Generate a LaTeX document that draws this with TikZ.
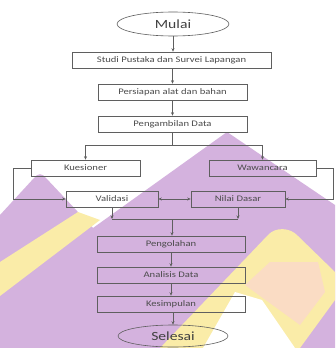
\documentclass[tikz,border=0pt]{standalone}
\usepackage{fontspec}
\setmainfont[FakeStretch=1.25]{Carlito}
\usetikzlibrary{shapes.geometric,arrows.meta}
\definecolor{wmpurple}{RGB}{212,178,222}
\definecolor{wmyellow}{RGB}{250,236,168}
\definecolor{wmorange}{RGB}{250,220,196}
\definecolor{lncol}{RGB}{95,95,95}
\begin{document}
\begin{tikzpicture}[x=1pt,y=-1pt,
  box/.style={draw=lncol, line width=0.6pt, minimum height=16pt, inner sep=1pt,
    font=\fontsize{8.5}{10}\selectfont, text=black!70},
  term/.style={ellipse, draw=lncol, line width=0.6pt, inner sep=1pt,
    font=\fontsize{12.5}{14}\selectfont, text=black!75},
  arr/.style={draw=lncol, line width=0.5pt, -{Stealth[length=3.5pt,width=3pt]}},
  ln/.style={draw=lncol, line width=0.5pt}]
\useasboundingbox (0,0) rectangle (335,348);
% watermark background
\fill[white] (0,0) rectangle (335,348);
\fill[wmpurple] (227,132) -- (335,205) -- (335,348) -- (0,348) -- (0,215) -- (34,178)
  .. controls (38,173) and (42,173) .. (46,178) -- (93,228) -- cycle;
\fill[wmyellow] (0,262) -- (78,212) -- (100,220) -- (0,296) -- cycle;
\fill[wmyellow] (160,348) -- (268,235) .. controls (275,227) and (290,227) .. (298,236)
  -- (335,272) -- (335,300) -- (300,348) -- cycle;
\fill[wmorange] (245,285) -- (270,262) -- (318,262) -- (325,292) -- (300,325) -- cycle;
\fill[white] (203,348) -- (235,292) -- (262,300) -- (295,348) -- cycle;
% nodes
\node[term, fill=white, minimum width=112pt, minimum height=24pt] (mulai) at (173,24) {Mulai};
\node[box, minimum width=199pt] (studi) at (171.5,60) {Studi Pustaka dan Survei Lapangan};
\node[box, minimum width=149pt] (persiapan) at (172.5,92) {Persiapan alat dan bahan};
\node[box, minimum width=149pt] (ambil) at (172.5,124) {Pengambilan Data};
\node[box, minimum width=109pt] (kues) at (85.5,168) {Kuesioner};
\node[box, minimum width=107pt] (waw) at (262.5,168) {Wawancara};
\node[box, minimum width=92pt] (val) at (112,199) {Validasi};
\node[box, minimum width=94pt] (nilai) at (238,199) {Nilai Dasar};
\node[box, minimum width=148pt] (olah) at (171,244) {Pengolahan};
\node[box, minimum width=148pt] (anal) at (171,275) {Analisis Data};
\node[box, minimum width=148pt] (kes) at (171,304) {Kesimpulan};
\node[term, minimum width=110pt, minimum height=22pt] (sel) at (173,336) {Selesai};
% helper coordinates
\coordinate (jy) at (0,145);
\coordinate (ll) at (13,0);
\coordinate (rr) at (333,0);
\coordinate (mj) at (172,219);
% connectors
\draw[arr] (mulai.south) -- (mulai.south |- studi.north);
\draw[arr] (persiapan.north |- studi.south) -- (persiapan.north);
\draw[arr] (persiapan) -- (ambil);
\draw[ln] (ambil.south) -- (ambil.south |- jy);
\draw[arr] (ambil.south |- jy) -| (kues.north);
\draw[arr] (ambil.south |- jy) -| (waw.north);
\draw[arr] (kues.west) -- (kues.west -| ll) |- (val.west);
\draw[arr] (waw.east) -- (waw.east -| rr) |- (nilai.east);
\draw[{Stealth[length=3.5pt,width=3pt]}-{Stealth[length=3.5pt,width=3pt]}, draw=lncol, line width=0.5pt] (val.east) -- (nilai.west);
\draw[arr] (val.south) -- (val.south |- mj);
\draw[arr] (nilai.south) -- (nilai.south |- mj);
\draw[ln] (val.south |- mj) -- (nilai.south |- mj);
\draw[arr] (mj) -- (mj |- olah.north);
\draw[arr] (olah) -- (anal);
\draw[arr] (anal) -- (kes);
\draw[arr] (sel.north |- kes.south) -- (sel.north);
\end{tikzpicture}
\end{document}
